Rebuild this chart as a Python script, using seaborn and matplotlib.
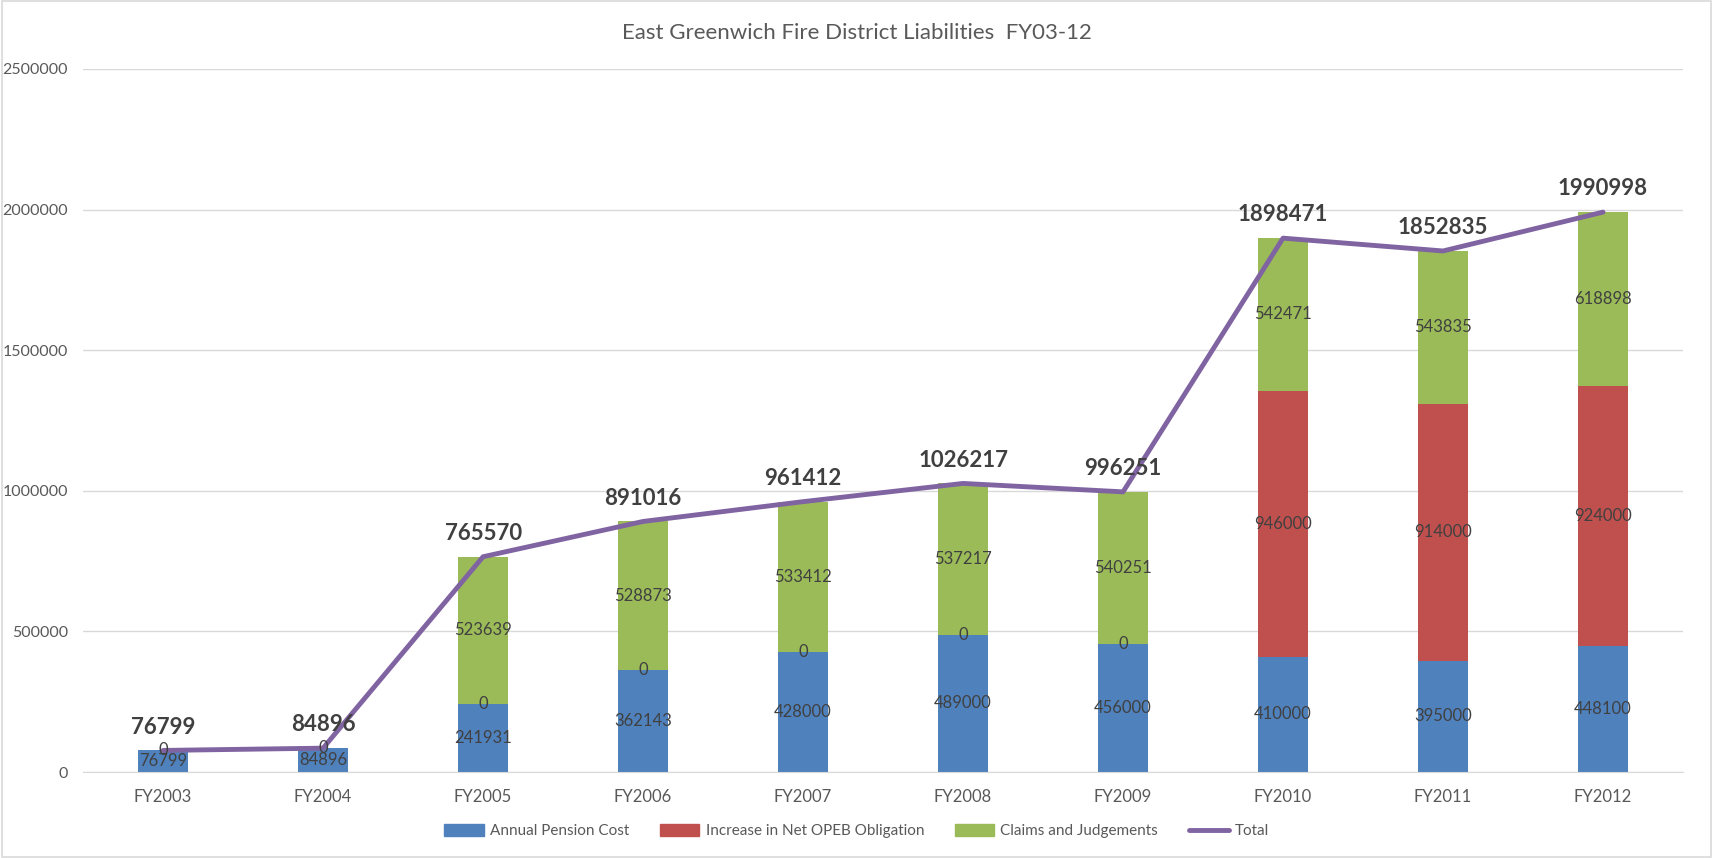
import matplotlib
matplotlib.use("Agg")
import matplotlib.pyplot as plt
from matplotlib.patches import Patch
from matplotlib.lines import Line2D
import numpy as np
import pandas as pd
import seaborn as sns

# Data
years = ["FY2003", "FY2004", "FY2005", "FY2006", "FY2007",
         "FY2008", "FY2009", "FY2010", "FY2011", "FY2012"]
pension = [76799, 84896, 241931, 362143, 428000, 489000, 456000, 410000, 395000, 448100]
opeb = [0, 0, 0, 0, 0, 0, 0, 946000, 914000, 924000]
claims = [None, None, 523639, 528873, 533412, 537217, 540251, 542471, 543835, 618898]
total = [76799, 84896, 765570, 891016, 961412, 1026217, 996251, 1898471, 1852835, 1990998]

df = pd.DataFrame({"year": years, "pension": pension, "opeb": opeb,
                   "claims": claims, "total": total})
df["claims0"] = df["claims"].fillna(0)
df["lvl2"] = df["pension"] + df["opeb"]
df["lvl3"] = df["lvl2"] + df["claims0"]

c_blue, c_red, c_green, c_purple = "#4F81BD", "#C0504D", "#9BBB59", "#8064A2"
grey = "#595959"

sns.set_style("white")
plt.rcParams["font.family"] = ["Lato", "DejaVu Sans"]

fig = plt.figure(figsize=(17.13, 8.58), dpi=100)
ax = fig.add_axes([0.0485, 0.1002, 0.934, 0.8194])

# stacked bars drawn as cumulative levels, tallest first
w = 0.31
for col, c in [("lvl3", c_green), ("lvl2", c_red), ("pension", c_blue)]:
    sns.barplot(data=df, x="year", y=col, color=c, width=w, saturation=1,
                linewidth=0, edgecolor="none", ax=ax)
sns.lineplot(x=np.arange(len(years)), y=df["total"], color=c_purple, linewidth=3.5, ax=ax)

ax.set_xlim(-0.5, len(years) - 0.5)
ax.set_ylim(0, 2500000)
ax.set_yticks(np.arange(0, 2500001, 500000))
ax.set_yticklabels([str(v) for v in range(0, 2500001, 500000)])
ax.yaxis.grid(True, color="#D9D9D9", linewidth=1)
ax.set_axisbelow(True)
for s in ["top", "right", "left"]:
    ax.spines[s].set_visible(False)
ax.spines["bottom"].set_color("#D9D9D9")
ax.tick_params(axis="x", length=0, labelsize=12, colors=grey, pad=12)
ax.tick_params(axis="y", length=0, labelsize=11.5, colors=grey, pad=11)
ax.set_xlabel("")
ax.set_ylabel("")

# segment labels
lab = "#404040"
for i, r in df.iterrows():
    ax.text(i, r["pension"] / 2, f"{r['pension']}", ha="center", va="center",
            fontsize=12, color=lab)
    ax.text(i, r["pension"] + r["opeb"] / 2, f"{r['opeb']}", ha="center", va="center",
            fontsize=12, color=lab)
    if pd.notna(r["claims"]):
        ax.text(i, r["lvl2"] + r["claims"] / 2, f"{int(r['claims'])}", ha="center",
                va="center", fontsize=12, color=lab)
    ax.text(i, r["total"] + 45000, f"{r['total']}", ha="center", va="bottom",
            fontsize=16, fontweight="bold", color=lab)

fig.text(0.5, 0.962, "East Greenwich Fire District Liabilities  FY03-12",
         ha="center", va="center", fontsize=16, color=grey)

handles = [Patch(color=c_blue, label="Annual Pension Cost"),
           Patch(color=c_red, label="Increase in Net OPEB Obligation"),
           Patch(color=c_green, label="Claims and Judgements"),
           Line2D([], [], color=c_purple, linewidth=3.5, label="Total")]
fig.legend(handles=handles, loc="center", bbox_to_anchor=(0.5, 0.031), ncol=4,
           frameon=False, fontsize=11, labelcolor=grey, handlelength=2.6,
           handleheight=0.8, columnspacing=2.0, handletextpad=0.4)

fig.patches.append(plt.Rectangle((0.001, 0.001), 0.998, 0.998, transform=fig.transFigure,
                                 fill=False, edgecolor="#D9D9D9", linewidth=1.2))

fig.savefig("out.png", dpi=100, facecolor="white")
